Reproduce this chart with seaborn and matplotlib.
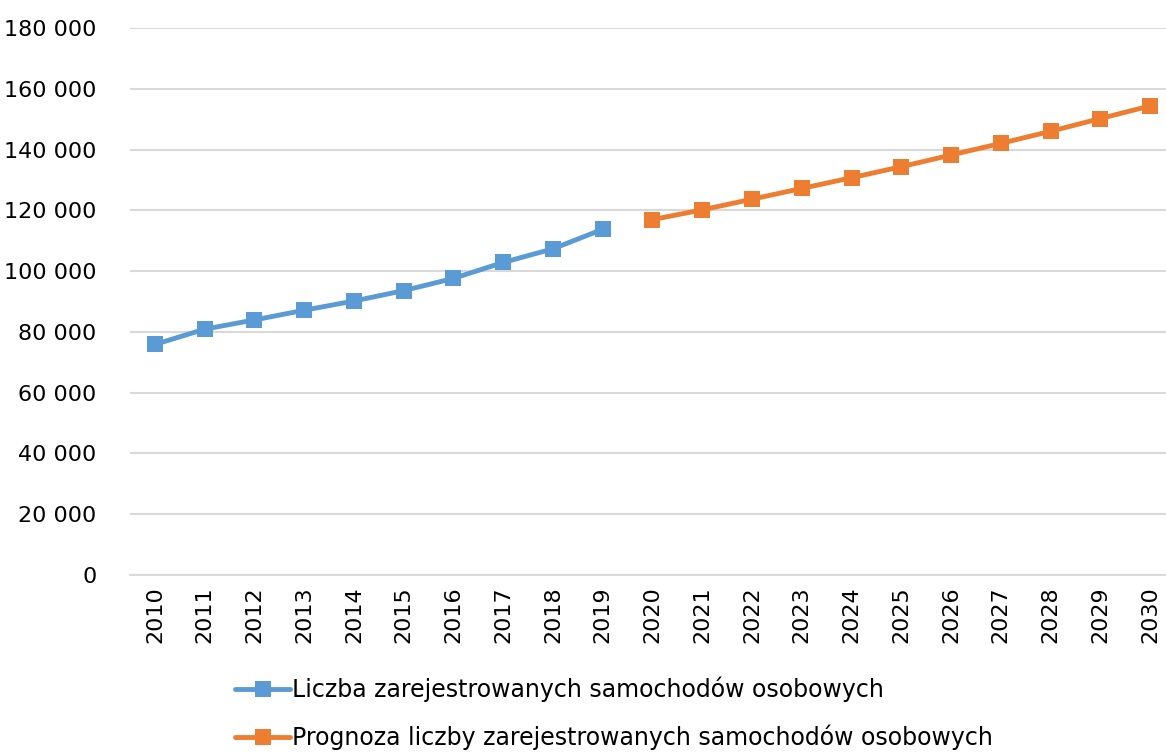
import pandas as pd
import matplotlib.pyplot as plt
import matplotlib.ticker as mticker
import seaborn as sns

# Data
years_hist = [2010, 2011, 2012, 2013, 2014, 2015, 2016, 2017, 2018, 2019]
cars_hist = [75870, 80890, 83930, 87120, 90160, 93570, 97600, 102850, 107340, 113770]

years_fcst = [2020, 2021, 2022, 2023, 2024, 2025, 2026, 2027, 2028, 2029, 2030]
cars_fcst = [116950, 120160, 123670, 127210, 130720, 134360, 138200, 142030, 146000, 150200, 154360]

label_hist = "Liczba zarejestrowanych samochodów osobowych"
label_fcst = "Prognoza liczby zarejestrowanych samochodów osobowych"

all_years = years_hist + years_fcst
pos = {y: i for i, y in enumerate(all_years)}

df = pd.DataFrame({
    'pos': [pos[y] for y in years_hist + years_fcst],
    'value': cars_hist + cars_fcst,
    'series': [label_hist] * len(years_hist) + [label_fcst] * len(years_fcst),
})

sns.set_style("white")
plt.rcParams['font.family'] = ['DejaVu Sans']
plt.rcParams['text.color'] = 'black'
plt.rcParams['xtick.color'] = 'black'
plt.rcParams['ytick.color'] = 'black'

fig = plt.figure(figsize=(11.66, 7.53), dpi=100)
ax = fig.add_axes([130 / 1166, 178 / 753, 1036 / 1166, 547 / 753])

sns.lineplot(data=df, x='pos', y='value', hue='series', style='series',
             markers={label_hist: 's', label_fcst: 's'}, dashes=False,
             palette={label_hist: '#5B9BD5', label_fcst: '#ED7D31'},
             linewidth=3.5, markersize=12, markeredgewidth=0,
             legend=False, ax=ax)

ax.set_xlim(-0.5, 20.32)
ax.set_ylim(0, 180000)
ax.set_xticks(range(len(all_years)))
ax.set_xticklabels([str(y) for y in all_years], rotation=90, fontsize=16)
ax.yaxis.set_major_locator(mticker.MultipleLocator(20000))
ax.yaxis.set_major_formatter(mticker.FuncFormatter(lambda v, p: f"{int(v):,}".replace(",", " ")))
ax.tick_params(axis='y', labelsize=16, length=0, pad=24)
ax.tick_params(axis='x', length=0, pad=8)
ax.set_xlabel("")
ax.set_ylabel("")
ax.grid(axis='y', color='#D9D9D9', linewidth=1.5)
for s in ['top', 'right', 'left']:
    ax.spines[s].set_visible(False)
ax.spines['bottom'].set_color('#D9D9D9')
ax.spines['bottom'].set_linewidth(1.5)

# Legend below the chart
handles = [
    plt.Line2D([], [], color='#5B9BD5', linewidth=3.5, marker='s', markersize=12, markeredgewidth=0),
    plt.Line2D([], [], color='#ED7D31', linewidth=3.5, marker='s', markersize=12, markeredgewidth=0),
]
fig.legend(handles, [label_hist, label_fcst], loc='upper left',
           bbox_to_anchor=(235 / 1166, 1 - 677 / 753), frameon=False,
           borderpad=0, borderaxespad=0,
           fontsize=17, handlelength=2.35, handletextpad=0.05, labelspacing=0.95)

plt.savefig("out.png", dpi=100)
